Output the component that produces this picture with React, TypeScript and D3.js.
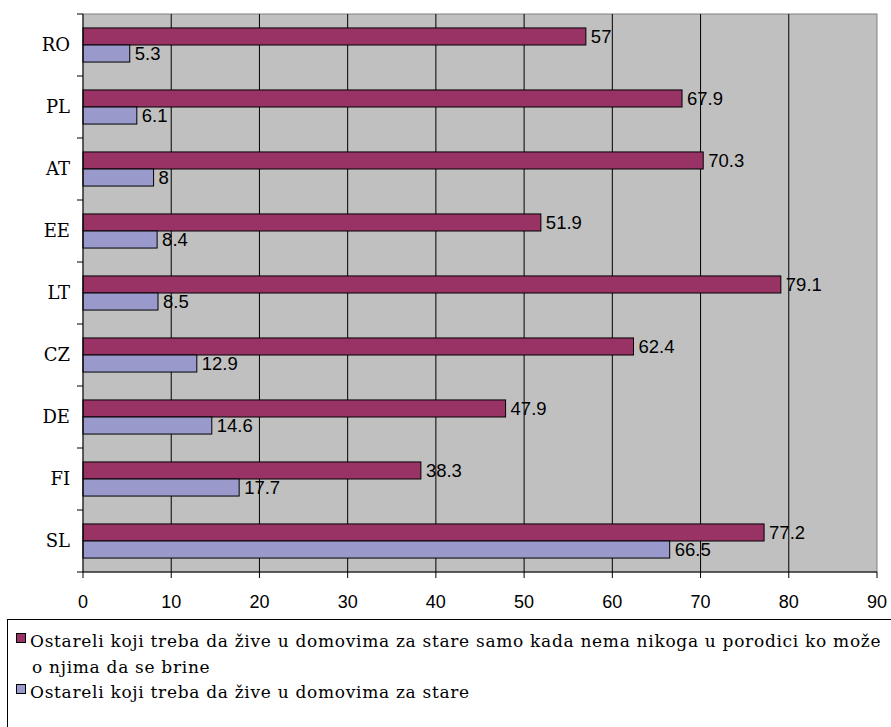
import { useEffect, useRef } from 'react';
import * as d3 from 'd3';

const categories = ['RO', 'PL', 'AT', 'EE', 'LT', 'CZ', 'DE', 'FI', 'SL'];
const onlyWhenNoFamily = [57, 67.9, 70.3, 51.9, 79.1, 62.4, 47.9, 38.3, 77.2];
const inHomes = [5.3, 6.1, 8, 8.4, 8.5, 12.9, 14.6, 17.7, 66.5];
const xTicks = [0, 10, 20, 30, 40, 50, 60, 70, 80, 90];
const legendLabels = [
  ['Ostareli koji treba da žive u domovima za stare samo kada nema nikoga u porodici ko može', 'o njima da se brine'],
  ['Ostareli koji treba da žive u domovima za stare'],
];

export default function App() {
  const svgRef = useRef<SVGSVGElement>(null);

  useEffect(() => {
    if (!svgRef.current) return;
    const svg = d3.select(svgRef.current);
    svg.selectAll('*').remove();

    const width = 891;
    const height = 727;
    const margin = { top: 14, left: 83, right: 14, bottom: 155 };
    const chartWidth = width - margin.left - margin.right;
    const chartHeight = height - margin.top - margin.bottom;

    const colors = ['#993366', '#9999CC'];
    const serif = '"DejaVu Serif", Georgia, serif';
    const sans = '"Liberation Sans", Arial, sans-serif';

    svg.append('rect').attr('width', width).attr('height', height).attr('fill', '#fff');

    const g = svg.append('g').attr('transform', `translate(${margin.left},${margin.top})`);

    const x = d3.scaleLinear().domain([0, 90]).range([0, chartWidth]);
    const y = d3.scaleBand().domain(categories).range([0, chartHeight]).paddingInner(0.45).paddingOuter(0.225);
    const inner = d3.scaleBand().domain(['a', 'b']).range([0, y.bandwidth()]);

    // plot area
    g.append('rect')
      .attr('width', chartWidth)
      .attr('height', chartHeight)
      .attr('fill', '#C0C0C0')
      .attr('stroke', '#808080');

    // gridlines
    g.selectAll('.grid')
      .data(xTicks.filter(d => d > 0 && d < 90))
      .enter()
      .append('line')
      .attr('x1', d => x(d))
      .attr('x2', d => x(d))
      .attr('y1', 0)
      .attr('y2', chartHeight)
      .attr('stroke', '#000')
      .attr('stroke-width', 1);

    // bars
    const rows = categories.map((c, i) => ({ c, a: onlyWhenNoFamily[i], b: inHomes[i] }));
    const row = g.selectAll('.row').data(rows).enter().append('g')
      .attr('transform', d => `translate(0,${y(d.c)})`);

    (['a', 'b'] as const).forEach((key, k) => {
      row.append('rect')
        .attr('x', 0)
        .attr('y', inner(key)!)
        .attr('width', d => x(d[key]))
        .attr('height', inner.bandwidth())
        .attr('fill', colors[k])
        .attr('stroke', '#000')
        .attr('stroke-width', 1);

      row.append('text')
        .attr('x', d => x(d[key]) + 5)
        .attr('y', inner(key)! + inner.bandwidth() / 2)
        .attr('dy', '0.36em')
        .style('font-family', sans)
        .style('font-size', '18.5px')
        .attr('fill', '#000')
        .text(d => String(d[key]));
    });

    // left axis
    g.append('line').attr('x1', 0).attr('x2', 0).attr('y1', 0).attr('y2', chartHeight).attr('stroke', '#000');
    const step = y.step();
    g.selectAll('.ytick')
      .data(d3.range(categories.length + 1))
      .enter()
      .append('line')
      .attr('x1', -6)
      .attr('x2', 0)
      .attr('y1', d => d * step)
      .attr('y2', d => d * step)
      .attr('stroke', '#000');

    g.selectAll('.ylabel')
      .data(categories)
      .enter()
      .append('text')
      .attr('x', -13)
      .attr('y', d => y(d)! + y.bandwidth() / 2)
      .attr('dy', '0.36em')
      .attr('text-anchor', 'end')
      .style('font-family', serif)
      .style('font-size', '18px')
      .text(d => d);

    // bottom axis
    g.append('line').attr('x1', 0).attr('x2', chartWidth).attr('y1', chartHeight).attr('y2', chartHeight).attr('stroke', '#000');
    g.selectAll('.xtick')
      .data(xTicks)
      .enter()
      .append('line')
      .attr('x1', d => x(d))
      .attr('x2', d => x(d))
      .attr('y1', chartHeight)
      .attr('y2', chartHeight + 6)
      .attr('stroke', '#000');

    g.selectAll('.xlabel')
      .data(xTicks)
      .enter()
      .append('text')
      .attr('x', d => x(d))
      .attr('y', chartHeight + 30)
      .attr('dy', '0.36em')
      .attr('text-anchor', 'middle')
      .style('font-family', sans)
      .style('font-size', '18px')
      .text(d => String(d));

    // legend
    const legend = svg.append('g');
    legend.append('rect')
      .attr('x', 7.5)
      .attr('y', 619.5)
      .attr('width', 900)
      .attr('height', 200)
      .attr('fill', '#fff')
      .attr('stroke', '#000');

    const lineY = [647, 698];
    legendLabels.forEach((lines, i) => {
      legend.append('rect')
        .attr('x', 16.5)
        .attr('y', lineY[i] - 13.5)
        .attr('width', 9)
        .attr('height', 9)
        .attr('fill', colors[i])
        .attr('stroke', '#000');
      lines.forEach((t, j) => {
        legend.append('text')
          .attr('x', j === 0 ? 30 : 32)
          .attr('y', lineY[i] + j * 25.5)
          .style('font-family', serif)
          .style('font-size', '17px')
          .style('letter-spacing', '0.7px')
          .attr('fill', '#000')
          .text(t);
      });
    });
  }, []);

  return (
    <svg
      ref={svgRef}
      width={891}
      height={727}
      style={{ position: 'absolute', left: 0, top: 0, display: 'block' }}
    />
  );
}
